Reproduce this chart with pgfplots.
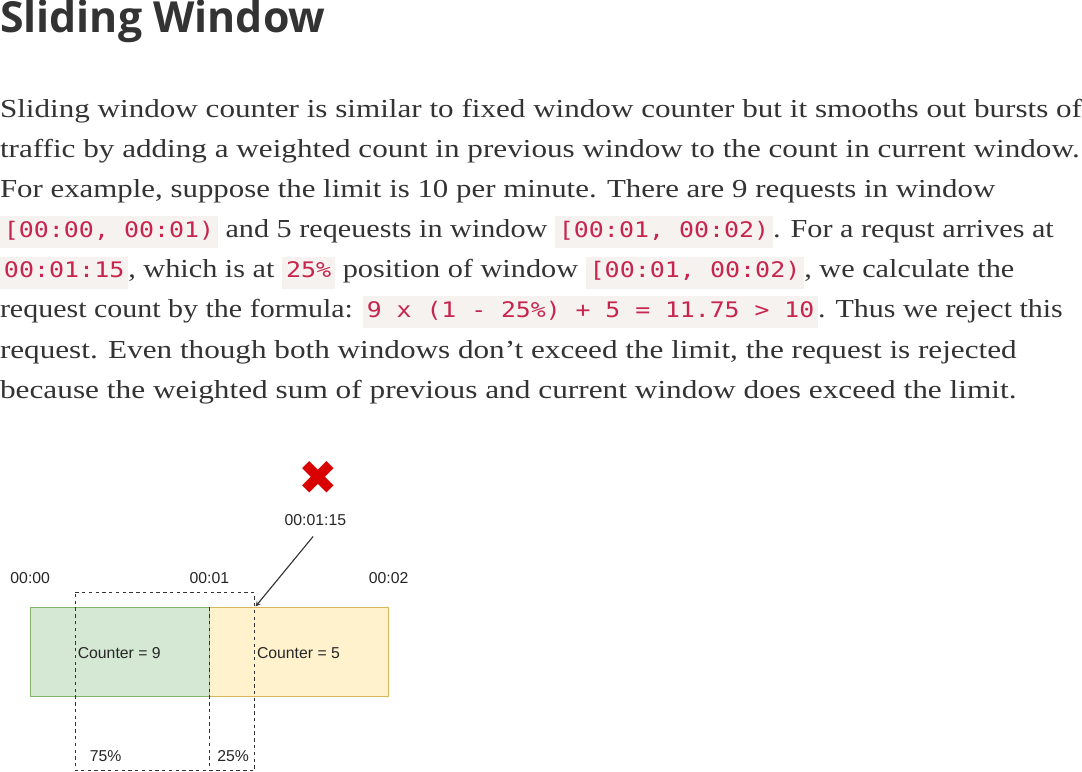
\documentclass[border=0pt]{standalone}
\usepackage{pgfplots}
\pgfplotsset{compat=1.18}
\usepackage{fontspec}
\setmainfont{Liberation Serif}
\newfontfamily\titlefont{Open Sans}
\newfontfamily\codefont{DejaVu Sans Mono}
\newfontfamily\diafont{Liberation Sans}
\newfontfamily\symfont{DejaVu Sans}
\usepackage{xcolor}
\definecolor{codebg}{HTML}{F5F2F0}
\definecolor{codefg}{HTML}{C7254E}
\definecolor{textc}{HTML}{333333}
\definecolor{gfill}{HTML}{D5E8D4}\definecolor{gline}{HTML}{82B366}
\definecolor{yfill}{HTML}{FFF2CC}\definecolor{yline}{HTML}{D6B656}
\newcommand{\cd}[1]{{\setlength{\fboxsep}{3pt}\colorbox{codebg}{\codefont\fontsize{19}{22}\selectfont\color{codefg}\strut #1}}}
\newcommand{\txtline}[3]{\node[anchor=west,inner sep=0pt,text=textc,font=\fontsize{23}{28}\selectfont] at (axis cs:110,#1) {\resizebox{#2pt}{\height}{#3}};}
\begin{document}
\begin{tikzpicture}
\begin{axis}[scale only axis,width=1082pt,height=694pt,xmin=0,xmax=1082,ymin=0,ymax=694,y dir=reverse,hide axis,clip=false]
\node[anchor=west,inner sep=0pt,text=textc,font=\titlefont\fontsize{38}{44}\selectfont\bfseries] at (axis cs:110,20) {Sliding Window};
\txtline{100}{960}{Sliding window counter is similar to fixed window counter but it smooths out bursts of}
\txtline{135}{958}{traffic by adding a weighted count in previous window to the count in current window.}
\txtline{171}{883}{For example, suppose the limit is 10 per minute. There are 9 requests in window}
\txtline{207}{935}{\cd{[00:00, 00:01)} and 5 reqeuests in window \cd{[00:01, 00:02)}. For a requst arrives at}
\txtline{243}{900}{\cd{00:01:15}, which is at \cd{25\%} position of window \cd{[00:01, 00:02)}, we calculate the}
\txtline{278}{943}{request count by the formula: \cd{9 x (1 - 25\%) + 5 = 11.75 > 10}. Thus we reject this}
\txtline{314}{902}{request. Even though both windows don't exceed the limit, the request is rejected}
\txtline{349}{902}{because the weighted sum of previous and current window does exceed the limit.}
\addplot[fill=gfill,draw=gline,line width=1pt] coordinates {(137,540)(296,540)(296,619)(137,619)} -- cycle;
\addplot[fill=yfill,draw=yline,line width=1pt] coordinates {(296,540)(455,540)(455,619)(296,619)} -- cycle;
\addplot[draw=black!80,dashed,line width=1pt] coordinates {(177,527)(336,527)(336,685)(177,685)} -- cycle;
\addplot[draw=black!80,dashed,line width=1pt] coordinates {(296,540)(296,685)};
\addplot[-stealth,black!80,line width=1pt] coordinates {(388,477)(337,539)};
\begin{scope}[font=\diafont\fontsize{14}{16}\selectfont,text=black!85]
\node at (axis cs:137,514) {00:00};
\node at (axis cs:296,514) {00:01};
\node at (axis cs:455,514) {00:02};
\node at (axis cs:390,462) {00:01:15};
\node at (axis cs:216,580) {Counter = 9};
\node at (axis cs:375,580) {Counter = 5};
\node at (axis cs:204,672) {75\%};
\node at (axis cs:317,672) {25\%};
\end{scope}
\node[text=red!85!black,font=\symfont\fontsize{42}{44}\selectfont] at (axis cs:393,425) {✖};
\end{axis}
\end{tikzpicture}
\end{document}
